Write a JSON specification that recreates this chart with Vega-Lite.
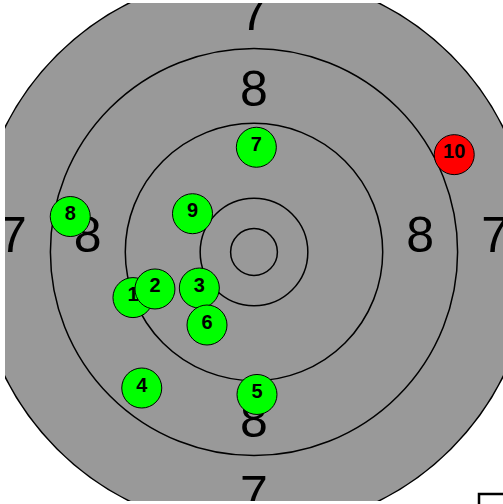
{
  "$schema": "https://vega.github.io/schema/vega-lite/v6.json",
  "width": 498,
  "height": 498,
  "autosize": {"type": "none"},
  "padding": {"left": 5, "top": 3, "right": 0, "bottom": 3},
  "background": "white",
  "config": {"view": {"stroke": null}, "legend": {"strokeWidth": 2.5}},
  "datasets": {
    "rings": [
      {"ring": "7", "r": 29.75, "x": 0, "y": 0},
      {"ring": "8", "r": 21.75, "x": 0, "y": 0},
      {"ring": "9", "r": 13.75, "x": 0, "y": 0},
      {"ring": "10", "r": 5.75, "x": 0, "y": 0},
      {"ring": "X", "r": 2.5, "x": 0, "y": 0}
    ],
    "labels": [
      {"label": "7", "x": 0, "y": 23.72},
      {"label": "7", "x": 0, "y": -27.67},
      {"label": "7", "x": -25.75, "y": 0},
      {"label": "7", "x": 25.75, "y": 0},
      {"label": "8", "x": 0, "y": 15.6},
      {"label": "8", "x": 0, "y": -19.77},
      {"label": "8", "x": -17.77, "y": 0},
      {"label": "8", "x": 17.75, "y": 0}
    ],
    "shots": [
      {"n": "1", "x": -12.93, "y": -4.87, "kind": "shot"},
      {"n": "2", "x": -10.58, "y": -3.95, "kind": "shot"},
      {"n": "3", "x": -5.84, "y": -3.85, "kind": "shot"},
      {"n": "4", "x": -11.99, "y": -14.53, "kind": "shot"},
      {"n": "5", "x": 0.32, "y": -15.22, "kind": "shot"},
      {"n": "6", "x": -5.02, "y": -7.8, "kind": "shot"},
      {"n": "7", "x": 0.25, "y": 11.19, "kind": "shot"},
      {"n": "8", "x": -19.63, "y": 3.79, "kind": "shot"},
      {"n": "9", "x": -6.57, "y": 4.09, "kind": "shot"},
      {"n": "10", "x": 21.39, "y": 10.4, "kind": "last"}
    ]
  },
  "encoding": {
    "x": {"field": "x", "type": "quantitative", "scale": {"domain": [-26.6, 26.6], "nice": false, "zero": false}, "axis": null},
    "y": {"field": "y", "type": "quantitative", "scale": {"domain": [-26.6, 26.6], "nice": false, "zero": false}, "axis": null}
  },
  "layer": [
    {
      "data": {"name": "rings"},
      "mark": {"type": "point", "shape": "circle", "filled": true, "fill": "#999999", "stroke": "black", "strokeWidth": 1.5, "opacity": 1, "clip": true},
      "encoding": {
        "size": {"field": "r", "type": "quantitative", "scale": {"type": "pow", "exponent": 2, "domain": [0, 26.6], "range": [0, 248004]}, "legend": null}
      }
    },
    {
      "data": {"name": "labels"},
      "mark": {"type": "text", "font": "Liberation Sans", "fontSize": 50, "color": "black", "align": "center", "baseline": "alphabetic", "clip": true},
      "encoding": {"text": {"field": "label"}}
    },
    {
      "data": {"name": "shots"},
      "mark": {"type": "point", "shape": "circle", "filled": true, "size": 1600, "stroke": "black", "strokeWidth": 1, "opacity": 1, "clip": true},
      "encoding": {
        "color": {"field": "kind", "type": "nominal", "scale": {"domain": ["shot", "last"], "range": ["#00ff00", "#ff0000"]},
          "legend": {"orient": "none", "legendX": 474, "legendY": 491, "strokeColor": "black", "fillColor": "white", "padding": 10, "title": "Shots"}}
      }
    },
    {
      "data": {"name": "shots"},
      "mark": {"type": "text", "font": "Liberation Sans", "fontWeight": "bold", "fontSize": 20, "color": "black", "align": "center", "baseline": "alphabetic", "dy": 3.5, "clip": true},
      "encoding": {"text": {"field": "n"}}
    }
  ]
}
